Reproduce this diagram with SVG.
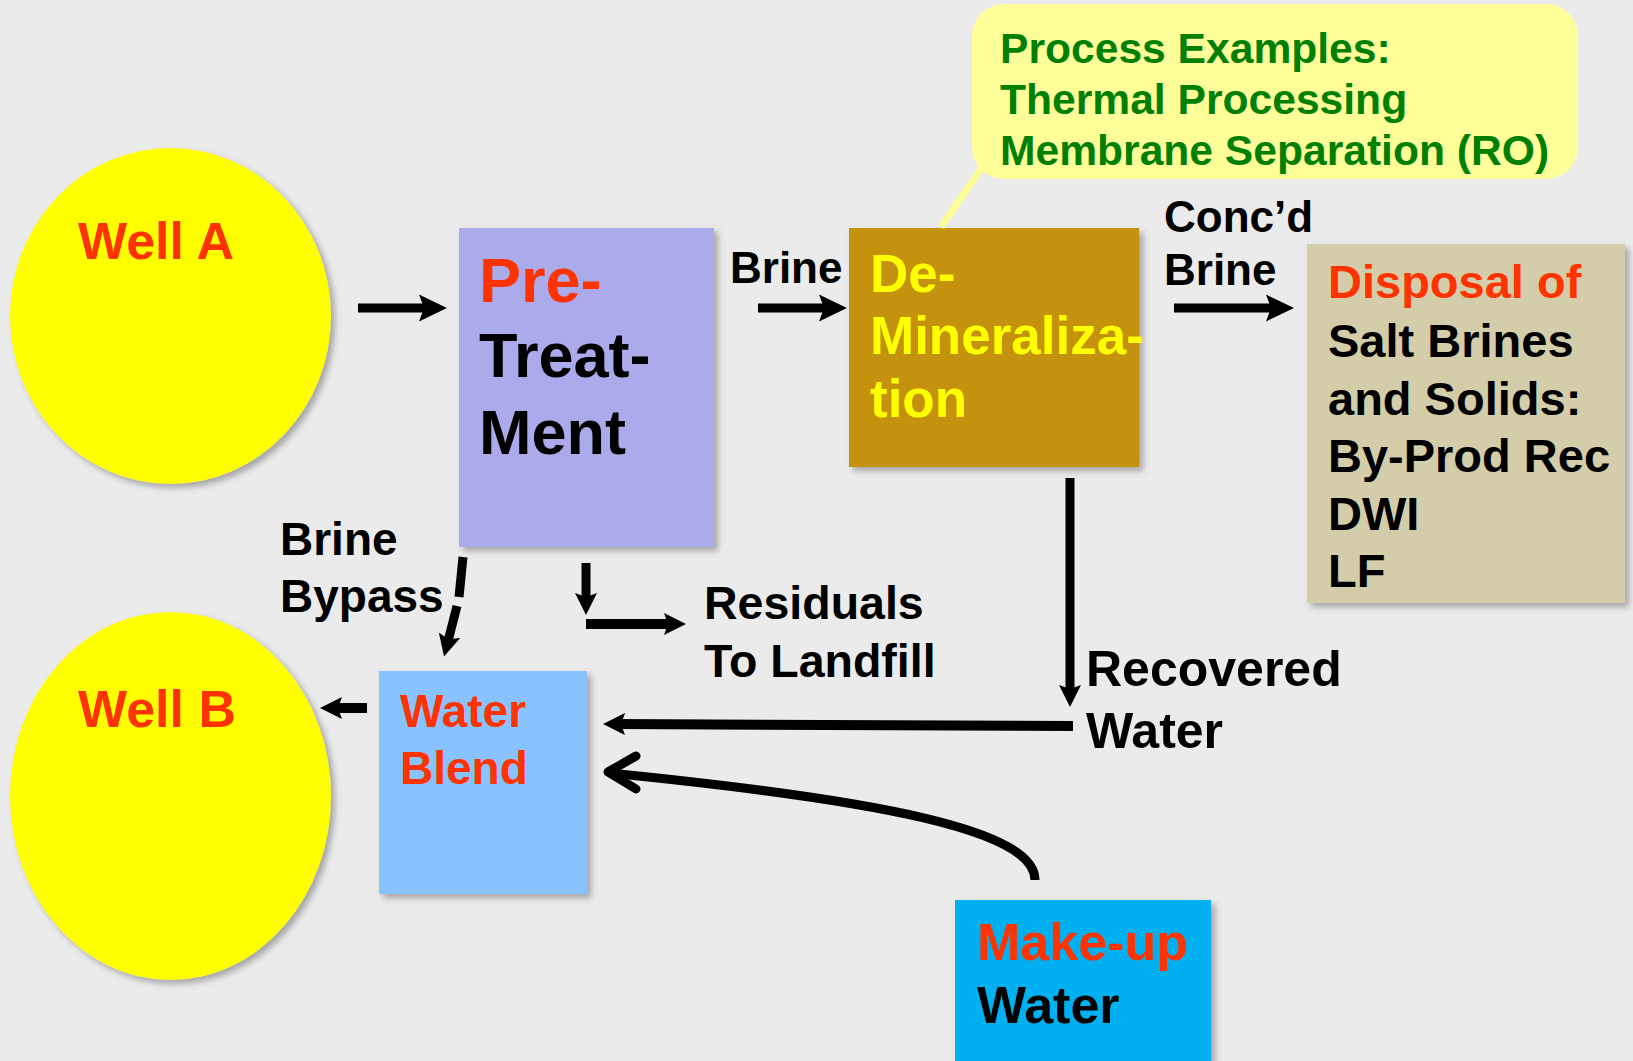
<svg xmlns="http://www.w3.org/2000/svg" width="1633" height="1061" viewBox="0 0 1633 1061">
<style>
text{font-family:"Liberation Sans",Arial,Helvetica,sans-serif;font-weight:bold;}
.red{fill:#FF3300;}
.blk{fill:#000000;}
.yel{fill:#FFFF00;}
.grn{fill:#008000;}
.conn{stroke:#000;fill:none;}
</style>
<defs>
<filter id="sh" x="-10%" y="-10%" width="130%" height="130%">
<feDropShadow dx="4" dy="4" stdDeviation="3" flood-color="#777" flood-opacity="0.6"/>
</filter>
<marker id="ahBig" markerUnits="userSpaceOnUse" markerWidth="28" markerHeight="28" viewBox="0 0 28 28" refX="12" refY="14" orient="auto">
<path d="M0,0.5 L28,14 L0,27.5 L5,14 z" fill="#000"/>
</marker>
<marker id="ah" markerUnits="userSpaceOnUse" markerWidth="22" markerHeight="22" viewBox="0 0 22 22" refX="10" refY="11" orient="auto">
<path d="M0,0 L22,11 L0,22 L4,11 z" fill="#000"/>
</marker>
</defs>
<rect x="0" y="0" width="1633" height="1061" fill="#EBEBEB"/>

<g id="wellA">
<ellipse cx="170.5" cy="316" rx="160.5" ry="168" fill="#FFFF00" filter="url(#sh)"/>
<text x="78" y="259" font-size="52" class="red">Well A</text>
</g>

<g id="wellB">
<ellipse cx="170.5" cy="796" rx="160.5" ry="184" fill="#FFFF00" filter="url(#sh)"/>
<text x="78" y="727" font-size="52" class="red">Well B</text>
</g>

<g id="pretreatment">
<rect x="459" y="228" width="255" height="319" fill="#ABABEB" filter="url(#sh)"/>
<text x="479" y="302" font-size="63" class="red">Pre-</text>
<text x="479" y="377" font-size="63" class="blk">Treat-</text>
<text x="479" y="454" font-size="63" class="blk">Ment</text>
</g>

<g id="demineralization">
<rect x="849" y="228" width="290" height="239" fill="#C4920F" filter="url(#sh)"/>
<text x="870" y="292" font-size="53" class="yel">De-</text>
<text x="870" y="354" font-size="53" class="yel">Mineraliza-</text>
<text x="870" y="417" font-size="53" class="yel">tion</text>
</g>

<g id="callout">
<line x1="983" y1="166" x2="941" y2="227" stroke="#FFFF99" stroke-width="7"/>
<rect x="972" y="4" width="606" height="175" rx="32" ry="32" fill="#FFFF99"/>
<text x="1000" y="63" font-size="42.6" class="grn">Process Examples:</text>
<text x="1000" y="114" font-size="42.6" class="grn">Thermal Processing</text>
<text x="1000" y="165" font-size="42.6" class="grn">Membrane Separation (RO)</text>
</g>

<g id="disposal">
<rect x="1307" y="244" width="318" height="359" fill="#D3CDA9" filter="url(#sh)"/>
<text x="1328" y="298" font-size="47" class="red">Disposal of</text>
<text x="1328" y="357" font-size="47" class="blk">Salt Brines</text>
<text x="1328" y="415" font-size="47" class="blk">and Solids:</text>
<text x="1328" y="472" font-size="47" class="blk">By-Prod Rec</text>
<text x="1328" y="530" font-size="47" class="blk">DWI</text>
<text x="1328" y="587" font-size="47" class="blk">LF</text>
</g>

<g id="waterBlend">
<rect x="379" y="671" width="208" height="223" fill="#88C3FF" filter="url(#sh)"/>
<text x="400" y="727" font-size="46" class="red">Water</text>
<text x="400" y="784" font-size="46" class="red">Blend</text>
</g>

<g id="makeupWater">
<rect x="955" y="900" width="256" height="165" fill="#00B0F0" filter="url(#sh)"/>
<text x="977" y="960" font-size="52" class="red">Make-up</text>
<text x="977" y="1023" font-size="52" class="blk">Water</text>
</g>

<g id="labels">
<text x="730" y="283" font-size="44" class="blk">Brine</text>
<text x="1164" y="232" font-size="44" class="blk">Conc’d</text>
<text x="1164" y="285" font-size="44" class="blk">Brine</text>
<text x="280" y="555" font-size="46" class="blk">Brine</text>
<text x="280" y="612" font-size="46" class="blk">Bypass</text>
<text x="704" y="619" font-size="46.5" class="blk">Residuals</text>
<text x="704" y="677" font-size="46.5" class="blk">To Landfill</text>
<text x="1086" y="686" font-size="50" class="blk">Recovered</text>
<text x="1086" y="748" font-size="50" class="blk">Water</text>
</g>

<g id="connectors">
<line x1="358" y1="308" x2="431" y2="308" class="conn" stroke-width="9" marker-end="url(#ahBig)"/>
<line x1="758" y1="308" x2="831" y2="308" class="conn" stroke-width="9" marker-end="url(#ahBig)"/>
<line x1="1174" y1="308" x2="1278" y2="308" class="conn" stroke-width="9" marker-end="url(#ahBig)"/>
<line x1="586" y1="563" x2="586" y2="603" class="conn" stroke-width="9" marker-end="url(#ah)"/>
<line x1="586" y1="624" x2="674" y2="624" class="conn" stroke-width="10" marker-end="url(#ah)"/>
<line x1="463" y1="557" x2="459" y2="597" class="conn" stroke-width="9"/>
<line x1="457" y1="606" x2="447" y2="645" class="conn" stroke-width="9" marker-end="url(#ah)"/>
<line x1="1070" y1="478" x2="1070" y2="695" class="conn" stroke-width="9" marker-end="url(#ah)"/>
<line x1="1073" y1="726" x2="615" y2="724" class="conn" stroke-width="10" marker-end="url(#ah)"/>
<line x1="367" y1="708" x2="332" y2="708" class="conn" stroke-width="10" marker-end="url(#ah)"/>
<path d="M1035,880 C1035,830 880,800 609,773" class="conn" stroke-width="9"/>
<path d="M636,756 L608,772 L636,789" class="conn" stroke-width="9" stroke-linecap="round" stroke-linejoin="round"/>
</g>
</svg>
